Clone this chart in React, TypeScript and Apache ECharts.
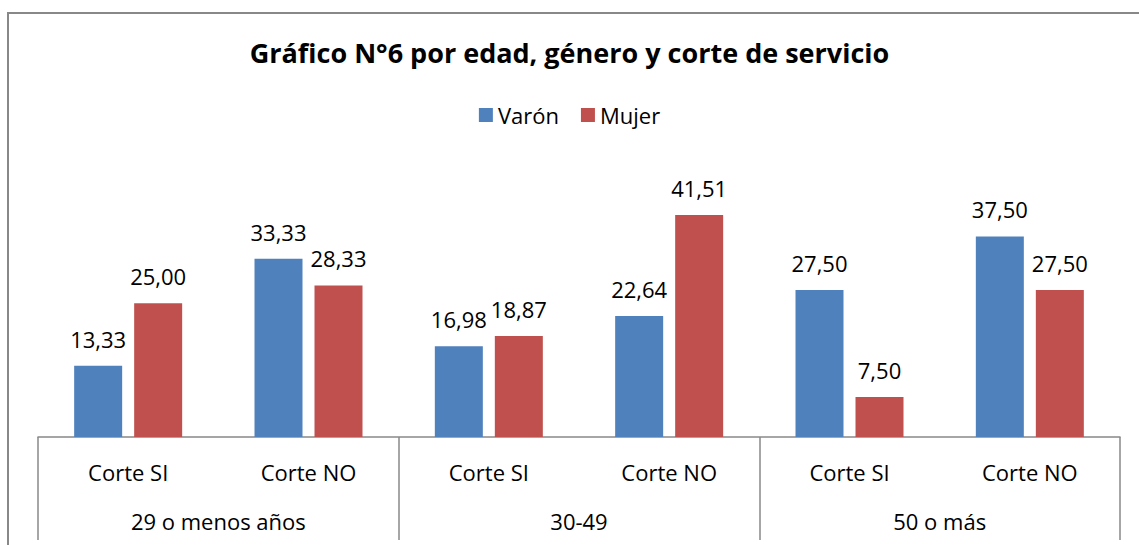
import React, { useEffect, useRef } from "react";
import * as echarts from "echarts";

const categories = ["Corte SI", "Corte NO", "Corte SI", "Corte NO", "Corte SI", "Corte NO"];
const groups = ["29 o menos años", "30-49", "50 o más"];
const varon = [13.33, 33.33, 16.98, 22.64, 27.5, 37.5];
const mujer = [25.0, 28.33, 18.87, 41.51, 7.5, 27.5];
const seriesNames = ["Varón", "Mujer"];
const titleText = "Gráfico N°6 por edad, género y corte de servicio";

const FONT = "'Open Sans', sans-serif";

export default function App() {
  const ref = useRef<HTMLDivElement>(null);
  useEffect(() => {
    if (!ref.current) return;
    const chart = echarts.init(ref.current, null, { renderer: "svg" });
    const fmt = (p: any) => Number(p.value).toFixed(2).replace(".", ",");
    const labelCfg = {
      show: true,
      position: "top",
      distance: 16,
      formatter: fmt,
      fontFamily: FONT,
      fontSize: 22,
      color: "#000",
    };
    chart.setOption({
      animation: false,
      backgroundColor: "#fff",
      title: {
        text: titleText,
        left: "center",
        top: 34,
        textStyle: { fontFamily: FONT, fontSize: 27, fontWeight: "bold", color: "#000" },
      },
      legend: {
        data: seriesNames,
        top: 99,
        left: "center",
        itemWidth: 14,
        itemHeight: 14,
        itemGap: 22,
        icon: "rect",
        textStyle: { fontFamily: FONT, fontSize: 22, color: "#000" },
      },
      graphic: [
        {
          type: "rect",
          shape: { x: 8, y: 13, width: 1160, height: 560 },
          style: { fill: "none", stroke: "#888", lineWidth: 2 },
          silent: true,
        },
      ],
      grid: { left: 38, right: 19, top: 196.3, bottom: 108 },
      xAxis: [
        {
          type: "category",
          data: categories,
          position: "bottom",
          axisLine: { show: true, lineStyle: { color: "#888", width: 1.5 } },
          axisTick: { show: false },
          axisLabel: { fontFamily: FONT, fontSize: 22, color: "#000", margin: 24, interval: 0 },
        },
        {
          type: "category",
          data: groups,
          position: "bottom",
          axisLine: { show: false },
          axisTick: { show: true, length: 103, lineStyle: { color: "#888", width: 1.5 } },
          axisLabel: { fontFamily: FONT, fontSize: 22, color: "#000", margin: 73, interval: 0 },
        },
      ],
      yAxis: {
        type: "value",
        min: 0,
        max: 45,
        show: false,
        splitLine: { show: false },
      },
      series: [
        {
          name: seriesNames[0],
          type: "bar",
          xAxisIndex: 0,
          data: varon,
          barWidth: 48,
          barGap: "25%",
          itemStyle: { color: "#4F81BD" },
          label: labelCfg,
        },
        {
          name: seriesNames[1],
          type: "bar",
          xAxisIndex: 0,
          data: mujer,
          barWidth: 48,
          barGap: "25%",
          itemStyle: { color: "#C0504D" },
          label: labelCfg,
        },
      ],
    });
    return () => chart.dispose();
  }, []);
  return (
    <div
      ref={ref}
      style={{ position: "absolute", left: 0, top: 0, width: 1139, height: 545 }}
    />
  );
}
